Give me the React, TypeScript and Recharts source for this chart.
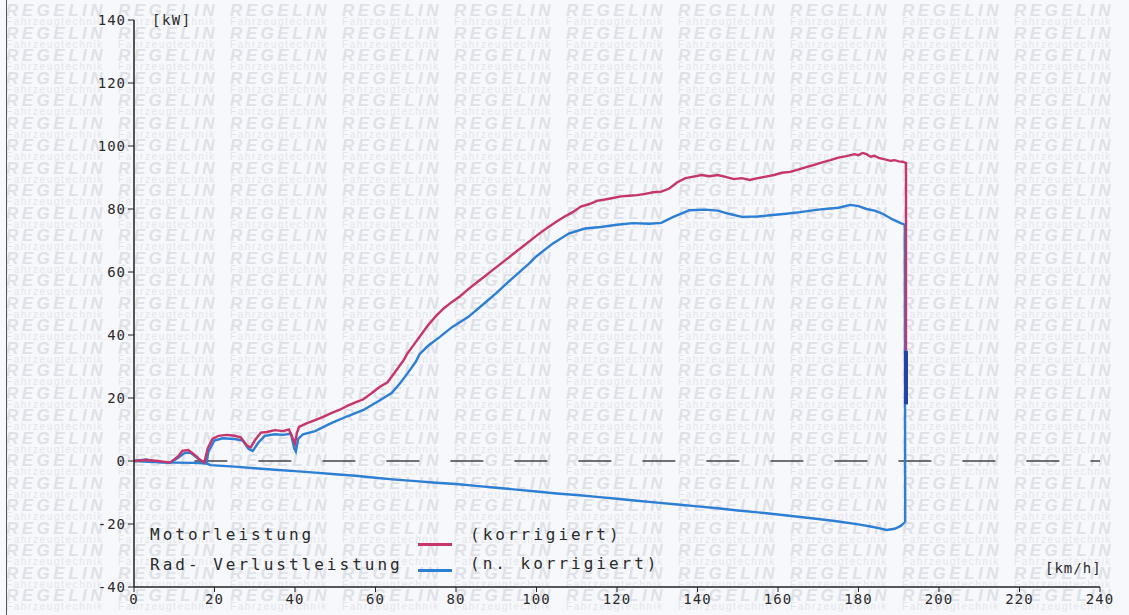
import { CartesianGrid, Line, LineChart, XAxis, YAxis } from "recharts";

// speed [km/h] and power [kW]
const speedTicks = [0, 20, 40, 60, 80, 100, 120, 140, 160, 180, 200, 220, 240];
const powerTicks = [-40, -20, 0, 20, 40, 60, 80, 100, 120, 140];

const motorSpeed = [
  0, 3, 6, 9, 11, 12, 13.5, 15, 16.5, 17.5, 18.3, 19.5, 21, 23, 25, 26.5, 28, 29, 30,
  31.5, 33, 35, 37, 38.5, 39.5, 40, 40.5, 41, 43, 45, 47, 49, 51, 53, 55, 57, 59, 61,
  63, 65, 67, 68, 69, 71, 73, 75, 77, 79, 81, 83, 85, 87, 89, 91, 93, 95, 97, 99, 101,
  103, 105, 107, 109, 111, 113, 115, 117, 119, 121, 123, 125, 127, 129, 131, 133, 135,
  137, 139, 141, 143, 145, 147, 149, 151, 153, 155, 157, 159, 161, 163, 165, 167, 169,
  171, 173, 175, 177, 179, 180, 181, 182, 183, 184, 185, 186, 187, 188, 189, 190, 191,
  191.8, 191.8
];
const motorPower = [
  0, 0.3, 0, -0.5, 1.5, 3.2, 3.5, 2, 0.3, -0.5, 4, 7, 8, 8.3, 8, 7.5, 5, 4.3, 6.5,
  9, 9.2, 9.8, 9.5, 10, 7, 5.5, 9, 10.8, 12, 13, 14, 15.2, 16.2, 17.5, 18.6, 19.6, 21.5, 23.5,
  25, 28.5, 32, 34.3, 36, 39.5, 43, 46, 48.5, 50.5, 52.3, 54.5, 56.5, 58.5, 60.5, 62.5, 64.5, 66.5, 68.5, 70.5, 72.5,
  74.3, 76, 77.6, 79, 80.8, 81.5, 82.6, 83, 83.5, 84, 84.2, 84.4, 84.8, 85.3, 85.5, 86.5, 88.5,
  89.8, 90.3, 90.8, 90.4, 90.8, 90.2, 89.5, 89.8, 89.2, 89.8, 90.3, 90.8, 91.5, 91.8, 92.5, 93.3, 94,
  94.8, 95.5, 96.3, 96.8, 97.4, 97.1, 97.8, 97.4, 96.6, 96.9, 96.2, 95.9, 95.6, 95.3, 95.5, 95.1, 95,
  94.6, 35
];

const radSpeed = [
  0, 3, 6, 9, 11, 12.5, 14, 15.5, 17, 18, 18.5, 20, 22, 25, 27, 28.5, 29.5, 31, 32.5,
  35, 37, 39, 39.8, 40.2, 40.8, 42, 45, 49, 53, 57, 61, 64, 66, 68, 70, 71, 73, 76, 79,
  83, 87, 90, 94, 98, 100, 104, 108, 112, 116, 120, 124, 128, 131, 134, 138, 142, 145,
  148, 151, 155, 158, 162, 165.5, 170, 175, 178, 180, 182, 184, 186, 188.6, 190.5, 191.5,
  191.6
];
const radPower = [
  0, 0.5, -0.3, -0.6, 1, 2.5, 2.7, 1.2, -0.3, -0.7, 3, 6.5, 7.2, 7, 6.5, 3.8, 3.2, 6, 8,
  8.5, 8.3, 8.6, 4, 3, 7, 8.5, 9.5, 12, 14.2, 16.2, 19.2, 21.6, 24.5, 27.9, 31.5, 34, 36.5, 39.4, 42.5,
  45.7, 50, 53.3, 58, 62.5, 65, 69, 72.2, 73.8, 74.3, 75, 75.5, 75.3, 75.6, 77.5, 79.6, 79.8, 79.5,
  78.4, 77.5, 77.6, 78, 78.5, 79, 79.8, 80.4, 81.3, 80.9, 80, 79.5, 78.5, 76.6, 75.5, 75,
  -19.5
];

const lossSpeed = [
  0, 5, 10, 15, 18, 19, 25, 30, 35, 40, 45, 50, 55, 60, 65, 70, 75, 80, 85, 90, 95, 100,
  105, 110, 115, 120, 125, 130, 135, 140, 145, 150, 155, 160, 165, 170, 175, 180, 183,
  185, 187, 189, 190.5, 191.5
];
const lossPower = [
  0, -0.3, -0.5, -0.6, -0.8, -1.3, -1.8, -2.3, -2.8, -3.2, -3.7, -4.2, -4.7, -5.3, -5.9, -6.4, -6.9, -7.3, -7.9, -8.5, -9.1, -9.7,
  -10.3, -10.8, -11.4, -12, -12.6, -13.2, -13.8, -14.4, -15, -15.7, -16.3, -17, -17.7, -18.4, -19.2, -20.1, -20.8,
  -21.3, -21.9, -21.5, -20.6, -19.5
];

const zeroSpeed = [15, 240];
const zeroPower = [0, 0];

const dropSpeed = [191.8, 191.8];
const dropPower = [35, 18];

const zip = (xs: number[], ys: number[]) => xs.map((v, i) => ({ v, p: ys[i] }));

const motorRows = zip(motorSpeed, motorPower);
const radRows = zip(radSpeed, radPower);
const lossRows = zip(lossSpeed, lossPower);
const zeroRows = zip(zeroSpeed, zeroPower);
const dropRows = zip(dropSpeed, dropPower);

const RED = "#c6356b";
const BLUE = "#2c7fd4";
const MONO = "'DejaVu Sans Mono', monospace";

const wmRows = Array.from({ length: 27 }, (_, i) => i);
const wmCols = Array.from({ length: 10 }, (_, i) => i);

function Watermark() {
  return (
    <div style={{ position: "absolute", inset: 0, overflow: "hidden" }}>
      {wmRows.map((r) =>
        wmCols.map((c) => (
          <div key={`${r}-${c}`}>
            <div
              style={{
                position: "absolute",
                left: 6 + c * 112,
                top: 4 + r * 22.5,
                fontFamily: "'Liberation Sans', Arial, sans-serif",
                fontWeight: 700,
                fontStyle: "italic",
                fontSize: 17,
                letterSpacing: 3.5,
                lineHeight: "13px",
                color: "#dee1e8",
                whiteSpace: "nowrap"
              }}
            >
              REGELIN
            </div>
            <div
              style={{
                position: "absolute",
                left: 6 + c * 112,
                top: 17.3 + r * 22.5,
                fontFamily: "'Liberation Sans', Arial, sans-serif",
                fontSize: 10,
                letterSpacing: 1.6,
                lineHeight: "9px",
                color: "#e3e5eb",
                whiteSpace: "nowrap"
              }}
            >
              Fahrzeugtechnik
            </div>
          </div>
        ))
      )}
    </div>
  );
}

function Label({ x, y, text, size = 16, spacing = 3 }: { x: number; y: number; text: string; size?: number; spacing?: number }) {
  return (
    <div
      style={{
        position: "absolute",
        left: x,
        top: y - 10,
        lineHeight: "20px",
        fontFamily: MONO,
        fontSize: size,
        letterSpacing: spacing,
        color: "#2a2a2a",
        whiteSpace: "pre"
      }}
    >
      {text}
    </div>
  );
}

function Swatch({ x, y, color }: { x: number; y: number; color: string }) {
  return (
    <div
      style={{
        position: "absolute",
        left: x,
        top: y - 1,
        width: 34,
        height: 3,
        background: color
      }}
    />
  );
}

export default function App() {
  return (
    <div
      style={{
        position: "absolute",
        left: 0,
        top: 0,
        width: 1129,
        height: 615,
        background: "#f7f8fb",
        overflow: "hidden"
      }}
    >
      <Watermark />
      <div style={{ position: "absolute", left: 6, top: 0, width: 1, height: 615, background: "#555" }} />
      <div style={{ position: "absolute", left: 0, top: 0 }}>
        <LineChart
          width={1129}
          height={615}
          margin={{ top: 20, right: 29, bottom: 0, left: 0 }}
        >
          <CartesianGrid stroke="none" />
          <XAxis
            type="number"
            dataKey="v"
            domain={[0, 240]}
            ticks={speedTicks}
            height={28}
            tickSize={5}
            tickMargin={2}
            axisLine={{ stroke: "#222", strokeWidth: 1.5 }}
            tickLine={{ stroke: "#222" }}
            tick={{ fill: "#2a2a2a", fontFamily: MONO, fontSize: 14, letterSpacing: 1 }}
          />
          <YAxis
            type="number"
            domain={[-40, 140]}
            ticks={powerTicks}
            width={134}
            tickSize={6}
            tickMargin={2}
            axisLine={{ stroke: "#222", strokeWidth: 1.5 }}
            tickLine={{ stroke: "#222" }}
            tick={{ fill: "#2a2a2a", fontFamily: MONO, fontSize: 14, letterSpacing: 1 }}
          />
          <Line
            data={zeroRows}
            dataKey="p"
            stroke="#444"
            strokeWidth={1.6}
            strokeDasharray="33 31"
            dot={false}
            isAnimationActive={false}
          />
          <Line
            data={lossRows}
            dataKey="p"
            stroke={BLUE}
            strokeWidth={2.4}
            dot={false}
            isAnimationActive={false}
          />
          <Line
            data={radRows}
            dataKey="p"
            stroke={BLUE}
            strokeWidth={2.4}
            dot={false}
            isAnimationActive={false}
          />
          <Line
            data={motorRows}
            dataKey="p"
            stroke={RED}
            strokeWidth={2.4}
            dot={false}
            isAnimationActive={false}
          />
          <Line
            data={dropRows}
            dataKey="p"
            stroke="#2443a8"
            strokeWidth={4}
            dot={false}
            isAnimationActive={false}
          />
        </LineChart>
      </div>
      <Label x={152} y={20} text="[kW]" size={14} spacing={1.5} />
      <Label x={1045} y={568} text="[km/h]" size={14} spacing={1} />
      <Label x={150} y={535} text="Motorleistung" />
      <Label x={150} y={565} text="Rad- Verlustleistung" />
      <Swatch x={418} y={544} color={RED} />
      <Swatch x={418} y={570} color={BLUE} />
      <Label x={470} y={535} text="(korrigiert)" />
      <Label x={470} y={564} text="(n. korrigiert)" />
    </div>
  );
}
